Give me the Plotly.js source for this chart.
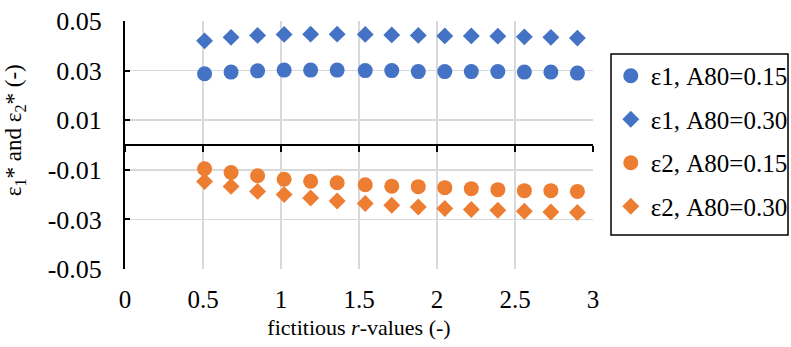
<!DOCTYPE html>
<html>
<head>
<meta charset="utf-8">
<script src="https://cdn.plot.ly/plotly-3.0.1.min.js"></script>
<style>html,body{margin:0;padding:0;background:#fff;}#chart{width:791px;height:347px;}</style>
</head>
<body>
<div id="chart"></div>
<script>
const rValues = [0.51, 0.68, 0.85, 1.02, 1.19, 1.36, 1.54, 1.71, 1.88, 2.05, 2.22, 2.39, 2.56, 2.73, 2.90];
const eps1_A015 = [0.0287, 0.0294, 0.0299, 0.0302, 0.0302, 0.0302, 0.0300, 0.0300, 0.0296, 0.0296, 0.0296, 0.0296, 0.0294, 0.0294, 0.0290];
const eps1_A030 = [0.0420, 0.0434, 0.0442, 0.0446, 0.0447, 0.0447, 0.0446, 0.0444, 0.0442, 0.0440, 0.0440, 0.0439, 0.0436, 0.0434, 0.0431];
const eps2_A015 = [-0.0096, -0.0111, -0.0124, -0.0138, -0.0146, -0.0152, -0.0160, -0.0166, -0.0168, -0.0172, -0.0176, -0.0180, -0.0184, -0.0184, -0.0187];
const eps2_A030 = [-0.0147, -0.0167, -0.0187, -0.0200, -0.0214, -0.0226, -0.0236, -0.0243, -0.0250, -0.0256, -0.0260, -0.0263, -0.0267, -0.0270, -0.0272];
const seriesNames = ['ε1, A80=0.15', 'ε1, A80=0.30', 'ε2, A80=0.15', 'ε2, A80=0.30'];
const xTickVals = [0, 0.5, 1, 1.5, 2, 2.5, 3];
const xTickText = ['0', '0.5', '1', '1.5', '2', '2.5', '3'];
const yTickVals = [-0.05, -0.03, -0.01, 0.01, 0.03, 0.05];
const yTickText = ['-0.05', '-0.03', '-0.01', '0.01', '0.03', '0.05'];

const BLUE = '#4472C4', ORANGE = '#ED7D31';
const FONT = "'Liberation Serif', 'Times New Roman', serif";

const mk = (y, name, color, symbol, size, g) => ({
  x: rValues, y: y, name: name, type: 'scatter', mode: 'markers',
  marker: {color: color, symbol: symbol, size: size, line: {width: 0}},
  legendgroup: g, cliponaxis: false
});

const data = [
  mk(eps1_A015, seriesNames[0], BLUE, 'circle', 15, 'a'),
  mk(eps1_A030, seriesNames[1], BLUE, 'diamond', 13, 'b'),
  mk(eps2_A015, seriesNames[2], ORANGE, 'circle', 15, 'c'),
  mk(eps2_A030, seriesNames[3], ORANGE, 'diamond', 13, 'd')
];

const layout = {
  width: 791, height: 347,
  margin: {l: 125, r: 198, t: 21, b: 78, autoexpand: false},
  paper_bgcolor: '#fff', plot_bgcolor: '#fff',
  font: {family: FONT, size: 24, color: '#000'},
  showlegend: true,
  legend: {
    x: 1.038, xanchor: 'left', y: 0.871, yanchor: 'top',
    bgcolor: 'rgba(0,0,0,0)', borderwidth: 0,
    font: {family: FONT, size: 25, color: '#000'},
    traceorder: 'grouped', tracegroupgap: 8,
    itemwidth: 30
  },
  shapes: [{
    type: 'rect', xref: 'paper', yref: 'paper',
    x0: 1.0385, x1: 1.4167, y0: 0.137, y1: 0.867,
    line: {color: '#000', width: 1.5}, fillcolor: 'rgba(0,0,0,0)', layer: 'above'
  }],
  xaxis: {
    range: [0, 3], tickvals: xTickVals, ticktext: xTickText,
    showgrid: true, gridcolor: '#d9d9d9', gridwidth: 1.5,
    zeroline: false, showline: false, ticks: '',
    tickfont: {family: FONT, size: 25, color: '#000'}, ticklabelstandoff: 13,
    title: {text: 'fictitious <i>r</i>-values (-)', font: {family: FONT, size: 22, color: '#000'}, standoff: 7}
  },
  xaxis2: {
    range: [0, 3], overlaying: 'x', anchor: 'free', position: 0.5, side: 'bottom',
    tickvals: xTickVals, showticklabels: false, showgrid: false, zeroline: false,
    showline: true, linecolor: '#000', linewidth: 2,
    ticks: 'outside', ticklen: 6, tickwidth: 2, tickcolor: '#000'
  },
  yaxis: {
    range: [-0.05, 0.05], tickvals: yTickVals, ticktext: yTickText,
    showgrid: true, gridcolor: '#d9d9d9', gridwidth: 1.5,
    zeroline: false, showline: true, linecolor: '#000', linewidth: 2,
    ticks: 'inside', ticklen: 5, tickwidth: 2, tickcolor: '#000',
    tickfont: {family: FONT, size: 26, color: '#000'}, ticklabelstandoff: 16
  },
  annotations: [{
    text: 'ε<sub>1</sub>* and ε<sub>2</sub>* (-)',
    xref: 'paper', yref: 'paper', x: -0.235, y: 0.56,
    xanchor: 'center', yanchor: 'middle', textangle: -90, showarrow: false,
    font: {family: FONT, size: 23, color: '#000'}
  }]
};

// dummy trace to attach the free zero axis
data.push({x: [], y: [], xaxis: 'x2', yaxis: 'y', showlegend: false, hoverinfo: 'skip', type: 'scatter', mode: 'markers'});

Plotly.newPlot('chart', data, layout, {displayModeBar: false, staticPlot: true});
</script>
</body>
</html>
